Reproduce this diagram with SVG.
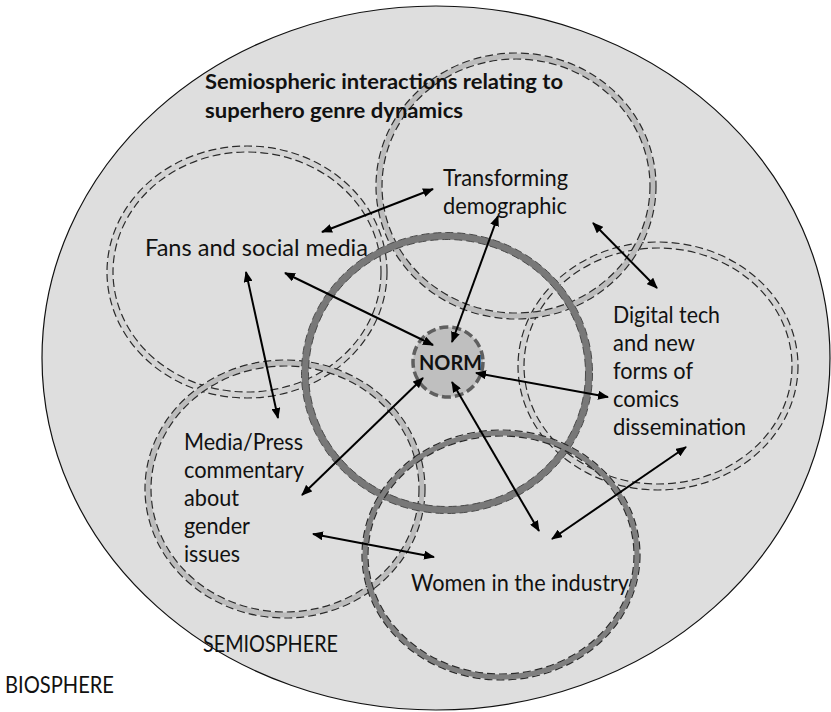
<svg xmlns="http://www.w3.org/2000/svg" width="831" height="712" viewBox="0 0 831 712">
<defs>
<style>
.lbl{font-family:Lato,"Liberation Sans",sans-serif;font-size:23px;fill:#111}
.ttl{font-family:Lato,"Liberation Sans",sans-serif;font-size:21px;font-weight:bold;fill:#111}
.dash{fill:none;stroke:#2a2a2a;stroke-width:1.2;stroke-dasharray:8 4}
.dashd{fill:none;stroke:#4a4a4a;stroke-width:1;stroke-dasharray:8 4}
.bandL{fill:none;stroke:#d3d3d3;stroke-width:5}
.bandM{fill:none;stroke:#bcbcbc;stroke-width:5}
.bandD{fill:none;stroke:#7f7f7f;stroke-width:5}
.arr{stroke:#000;stroke-width:2;fill:none;marker-start:url(#ah);marker-end:url(#ah)}
</style>
<marker id="ah" markerUnits="userSpaceOnUse" markerWidth="11" markerHeight="9" refX="10" refY="4.5" orient="auto-start-reverse">
<path d="M0,0 L11,4.5 L0,9 z" fill="#000"/>
</marker>
</defs>
<rect width="831" height="712" fill="#fff"/>
<g id="biosphere">
<ellipse cx="436" cy="358" rx="394" ry="352" fill="#dedede" stroke="#111" stroke-width="1.2"/>
</g>
<g id="circle-fans">
<ellipse class="bandL" cx="247" cy="272" rx="137" ry="123"/>
<ellipse class="dash" cx="247" cy="272" rx="140" ry="126"/>
<ellipse class="dash" cx="247" cy="272" rx="134" ry="120"/>
</g>
<g id="circle-media">
<ellipse class="bandM" cx="285" cy="489" rx="137" ry="126"/>
<ellipse class="dash" cx="285" cy="489" rx="140" ry="129"/>
<ellipse class="dash" cx="285" cy="489" rx="134" ry="123"/>
</g>
<g id="circle-digital">
<ellipse class="bandL" cx="658" cy="366" rx="137" ry="121"/>
<ellipse class="dash" cx="658" cy="366" rx="140" ry="124"/>
<ellipse class="dash" cx="658" cy="366" rx="134" ry="118"/>
</g>
<g id="circle-transforming">
<ellipse class="bandM" cx="516" cy="186" rx="137" ry="130"/>
<ellipse class="dash" cx="516" cy="186" rx="140" ry="133"/>
<ellipse class="dash" cx="516" cy="186" rx="134" ry="127"/>
</g>
<g id="circle-central">
<ellipse cx="447" cy="373" rx="142" ry="137" fill="none" stroke="#787878" stroke-width="7"/>
<ellipse class="dashd" cx="447" cy="373" rx="145.5" ry="140.5"/>
<ellipse class="dashd" cx="447" cy="373" rx="138.5" ry="133.5"/>
</g>
<g id="circle-women">
<ellipse class="bandD" cx="501" cy="555" rx="136" ry="122"/>
<ellipse class="dash" cx="501" cy="555" rx="139" ry="125"/>
<ellipse class="dash" cx="501" cy="555" rx="133" ry="119"/>
</g>
<g id="norm">
<circle cx="448" cy="362" r="35" fill="#bfbfbf" stroke="#5f5f5f" stroke-width="3.5" stroke-dasharray="9 4"/>
<text class="ttl" x="419" y="370" font-size="23" textLength="63" lengthAdjust="spacingAndGlyphs">NORM</text>
</g>
<g id="connectors">
<line class="arr" x1="322" y1="232" x2="433" y2="189"/>
<line class="arr" x1="498" y1="216" x2="452" y2="342"/>
<line class="arr" x1="285" y1="273" x2="433" y2="345"/>
<line class="arr" x1="246" y1="272" x2="278" y2="418"/>
<line class="arr" x1="593" y1="223" x2="657" y2="288"/>
<line class="arr" x1="476" y1="373" x2="608" y2="397"/>
<line class="arr" x1="423" y1="378" x2="302" y2="495"/>
<line class="arr" x1="452" y1="382" x2="539" y2="531"/>
<line class="arr" x1="686" y1="447" x2="552" y2="539"/>
<line class="arr" x1="313" y1="534" x2="434" y2="557"/>
</g>
<g id="title">
<text class="ttl" x="205" y="89" textLength="358" lengthAdjust="spacingAndGlyphs">Semiospheric interactions relating to</text>
<text class="ttl" x="205" y="118" textLength="258" lengthAdjust="spacingAndGlyphs">superhero genre dynamics</text>
</g>
<g id="label-fans"><text class="lbl" x="145" y="256" textLength="223" lengthAdjust="spacingAndGlyphs">Fans and social media</text></g>
<g id="label-transforming">
<text class="lbl" x="443" y="186" textLength="125" lengthAdjust="spacingAndGlyphs">Transforming</text>
<text class="lbl" x="443" y="214" textLength="124" lengthAdjust="spacingAndGlyphs">demographic</text>
</g>
<g id="label-digital">
<text class="lbl" x="613" y="323" textLength="107" lengthAdjust="spacingAndGlyphs">Digital tech</text>
<text class="lbl" x="613" y="351" textLength="82" lengthAdjust="spacingAndGlyphs">and new</text>
<text class="lbl" x="613" y="379" textLength="80" lengthAdjust="spacingAndGlyphs">forms of</text>
<text class="lbl" x="613" y="407" textLength="66" lengthAdjust="spacingAndGlyphs">comics</text>
<text class="lbl" x="613" y="435" textLength="133" lengthAdjust="spacingAndGlyphs">dissemination</text>
</g>
<g id="label-media">
<text class="lbl" x="184" y="450" textLength="119" lengthAdjust="spacingAndGlyphs">Media/Press</text>
<text class="lbl" x="184" y="478" textLength="120" lengthAdjust="spacingAndGlyphs">commentary</text>
<text class="lbl" x="184" y="506" textLength="55" lengthAdjust="spacingAndGlyphs">about</text>
<text class="lbl" x="184" y="534" textLength="66" lengthAdjust="spacingAndGlyphs">gender</text>
<text class="lbl" x="184" y="562" textLength="56" lengthAdjust="spacingAndGlyphs">issues</text>
</g>
<g id="label-women"><text class="lbl" x="411" y="591" textLength="218" lengthAdjust="spacingAndGlyphs">Women in the industry</text></g>
<g id="label-semiosphere"><text class="lbl" x="203" y="652" font-size="19" textLength="135" lengthAdjust="spacingAndGlyphs">SEMIOSPHERE</text></g>
<g id="label-biosphere"><text class="lbl" x="5" y="693" font-size="19" textLength="109" lengthAdjust="spacingAndGlyphs">BIOSPHERE</text></g>
</svg>
